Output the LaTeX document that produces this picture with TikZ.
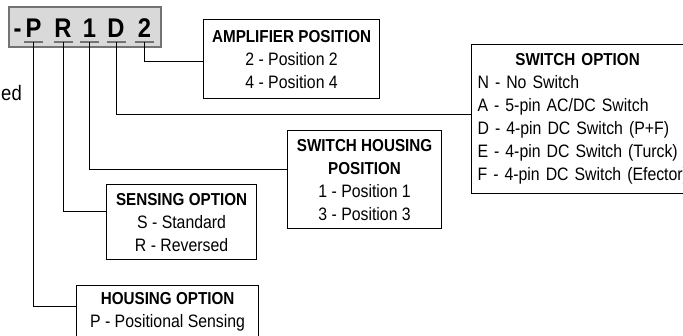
\documentclass[tikz,border=0pt]{standalone}
\usepackage{fontspec}
\setmainfont{Liberation Sans}[FakeStretch=0.88]
\usetikzlibrary{positioning}

\newcommand\optheader[1]{{\fontsize{17.3}{23}\selectfont\bfseries #1}}
\tikzset{
  optbox/.style={draw, line width=1.2pt, inner sep=0pt, anchor=north west, align=center, font=\fontsize{18}{23}\selectfont},
  wire/.style={line width=0.9pt},
  codechar/.style={font=\fontsize{27}{27}\selectfont\bfseries, anchor=base, inner sep=0pt},
  codeline/.style={line width=2pt, draw=black!55},
}

\begin{document}
\begin{tikzpicture}[x=1pt,y=-1pt]
\useasboundingbox (0,0) rectangle (683,335);
\clip (0,0) rectangle (683,335);
\node[draw=black!55, line width=1.5pt, fill=black!15, minimum width=152pt, minimum height=40pt, anchor=north west] (code) at (8,6) {};
\node[codechar] (cdash) at (17.5,37) {-};
\foreach \c/\x in {P/33.5, R/63, 1/89.5, D/116, 2/144.5}
  \node[codechar] (c\c) at (\x,37) {\c};
\foreach \c in {P,R,1,D,2} {
  \coordinate (u\c) at ([yshift=-5pt]c\c.base);
  \draw[codeline] ([xshift=-9.5pt]u\c) -- ([xshift=9.5pt]u\c);
}
\node[anchor=base east, font=\fontsize{21}{21}\selectfont, inner sep=0pt] (edfrag) at (22,100) {ed};
\node[optbox, minimum width=176pt, minimum height=79pt] (amp) at (203,19) {\optheader{AMPLIFIER POSITION}\\2 - Position 2\\4 - Position 4};
\node[optbox, align=left, text width=240pt, inner xsep=6pt, minimum height=149pt] (sw) at (471,44) {\makebox[200pt]{\optheader{SWITCH OPTION}}\\N - No Switch\\A - 5-pin AC/DC Switch\\D - 4-pin DC Switch (P+F)\\E - 4-pin DC Switch (Turck)\\F - 4-pin DC Switch (Efector)};
\node[optbox, minimum width=154pt, minimum height=98pt] (hpos) at (287,130) {\optheader{SWITCH HOUSING}\\\optheader{POSITION}\\1 - Position 1\\3 - Position 3};
\node[optbox, minimum width=150pt, minimum height=75pt] (sens) at (106,184) {\optheader{SENSING OPTION}\\S - Standard\\R - Reversed};
\node[optbox, minimum width=182pt, minimum height=53pt] (hopt) at (76,285) {\optheader{HOUSING OPTION}\\P - Positional Sensing};
\draw[wire] (u2) |- ([yshift=-42pt]amp.north west);
\draw[wire] (uD) |- ([yshift=-70pt]sw.north west);
\draw[wire] (u1) |- ([yshift=-39pt]hpos.north west);
\draw[wire] (uR) |- ([yshift=-27pt]sens.north west);
\draw[wire] (uP) |- ([yshift=-21pt]hopt.north west);
\end{tikzpicture}
\end{document}
